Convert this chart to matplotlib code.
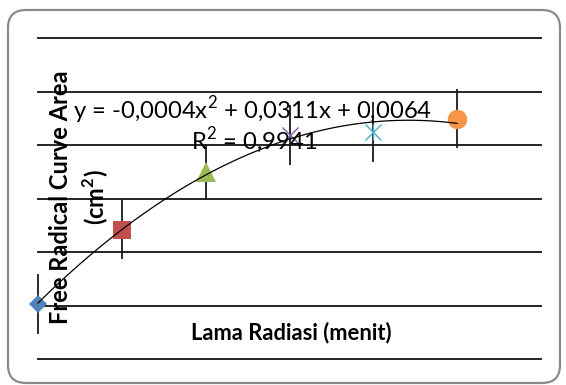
import matplotlib.pyplot as plt
import numpy as np
from matplotlib.patches import FancyBboxPatch
from matplotlib.transforms import IdentityTransform

# data (no tick labels in the original, so units are relative)
minutes = [0, 10, 20, 30, 40, 50]
area = [0.004, 0.284, 0.500, 0.636, 0.647, 0.699]
area_err = [0.112, 0.112, 0.104, 0.112, 0.112, 0.112]
markers = ['D', 's', '^', 'x', 'x', 'o']
colors = ['#4F81BD', '#C0504D', '#9BBB59', '#8064A2', '#4BACC6', '#F79646']
sizes = [9, 13, 15, 12, 12, 14]

eq_text = 'y = -0,0004x$^2$ + 0,0311x + 0,0064'
r2_text = 'R$^2$ = 0,9941'

plt.rcParams['font.family'] = ['Lato', 'DejaVu Sans']
plt.rcParams['mathtext.fontset'] = 'custom'
plt.rcParams['mathtext.rm'] = 'Lato'
plt.rcParams['mathtext.bf'] = 'Lato:bold'

fig = plt.figure(figsize=(5.66, 3.85), dpi=100)
ax = fig.add_axes([38 / 566, 1 - 359 / 385, (541 - 38) / 566, (359 - 38) / 385])

ax.set_xlim(0, 60)
ax.set_ylim(-0.2, 1.0)
ax.set_xticks([])
ax.set_yticks([])
for s in ax.spines.values():
    s.set_visible(False)
for yy in np.arange(-0.2, 1.01, 0.2):
    ax.axhline(yy, color='#262626', lw=1.4, zorder=1, clip_on=False)

# error bars
eb = ax.errorbar(minutes, area, yerr=area_err, fmt='none', ecolor='#1a1a1a', elinewidth=1.3, capsize=0, zorder=2)
for c in eb.lines[2]:
    c.set_clip_on(False)

# one marker per series
for i in range(len(minutes)):
    mew = 1.0 if markers[i] == 'x' else 0
    ax.plot(minutes[i], area[i], marker=markers[i], ms=sizes[i], color=colors[i],
            mew=mew, linestyle='none', zorder=3, clip_on=False)
# star marker for the cyan one: add the vertical stroke
ax.plot(minutes[4], area[4], marker='|', ms=12, color=colors[4], mew=1.0, zorder=3)

# polynomial trendline
coef = np.polyfit(minutes, area, 2)
xs = np.linspace(0, 50, 200)
ax.plot(xs, np.polyval(coef, xs), color='black', lw=0.9, zorder=4, clip_on=False)

fig.text(253 / 566, 1 - 110 / 385, eq_text, ha='center', va='center', fontsize=17.2, zorder=5)
fig.text(254 / 566, 1 - 141 / 385, r2_text, ha='center', va='center', fontsize=17.2, zorder=5)

fig.text(61 / 566, 1 - 197 / 385, 'Free Radical Curve Area', rotation=90, ha='center', va='center',
         fontsize=17, fontweight='bold')
fig.text(96 / 566, 1 - 197 / 385, '(cm$^\\mathbf{2}$)', rotation=90, ha='center', va='center',
         fontsize=17, fontweight='bold')
fig.text(291 / 566, 1 - 333 / 385, 'Lama Radiasi (menit)', ha='center', va='center',
         fontsize=15.8, fontweight='bold')

# rounded chart border (pixel coordinates)
border = FancyBboxPatch((8, 2), 552, 373, boxstyle='round,pad=0,rounding_size=18',
                        transform=IdentityTransform(), fill=False, ec='#8a8a8a', lw=1.6)
fig.patches.append(border)

fig.savefig('out.png', dpi=100)
